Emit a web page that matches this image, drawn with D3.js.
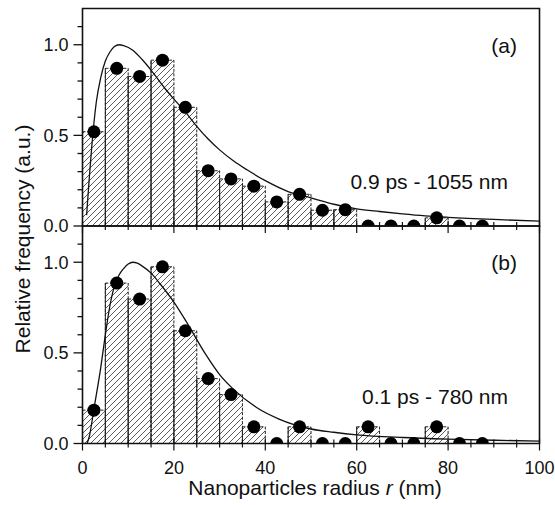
<!DOCTYPE html>
<html>
<head>
<meta charset="utf-8">
<script src="https://cdn.jsdelivr.net/npm/d3@7"></script>
<style>
    body { margin: 0; background: #fff; }
    text { font-family: "Liberation Sans", Arial, Helvetica, sans-serif; fill: #111; }
</style>
</head>
<body>
<div id="chart"></div>
<script>
// histogram bins (5 nm wide), centres in nm
const binCenters = [2.5, 7.5, 12.5, 17.5, 22.5, 27.5, 32.5, 37.5, 42.5, 47.5, 52.5, 57.5, 62.5, 67.5, 72.5, 77.5, 82.5, 87.5];

// relative frequency, panel (a) and (b)
const freqA = [0.52, 0.87, 0.825, 0.915, 0.655, 0.305, 0.26, 0.22, 0.133, 0.175, 0.087, 0.09, 0, 0, 0, 0.045, 0, 0];
const freqB = [0.184, 0.885, 0.797, 0.975, 0.622, 0.358, 0.27, 0.092, 0, 0.092, 0, 0, 0.092, 0, 0, 0.092, 0, 0];

// fitted curves
const fitRadiusA = [0.9, 1.5, 2, 3, 4, 5, 6, 7, 8, 9, 11, 13, 15, 18, 20, 22.5, 25, 27.5, 30, 33, 36, 40, 45, 50, 55, 60, 65, 70, 75, 80, 90, 100];
const fitA = [0.06, 0.27, 0.43, 0.68, 0.82, 0.91, 0.96, 0.99, 1.0, 0.995, 0.97, 0.92, 0.86, 0.76, 0.70, 0.63, 0.55, 0.48, 0.42, 0.36, 0.31, 0.25, 0.19, 0.155, 0.12, 0.095, 0.08, 0.067, 0.056, 0.048, 0.036, 0.027];
const fitRadiusB = [1, 1.5, 2.5, 4, 5, 6, 7, 8, 9, 10, 11, 12, 13, 15, 17, 20, 23, 27, 30, 33, 38, 43, 50, 55, 60, 70, 80, 90, 100];
const fitB = [0.0, 0.04, 0.19, 0.42, 0.6, 0.76, 0.87, 0.93, 0.965, 0.99, 1.0, 0.995, 0.98, 0.94, 0.88, 0.78, 0.66, 0.49, 0.38, 0.3, 0.2, 0.135, 0.08, 0.062, 0.048, 0.033, 0.024, 0.018, 0.013];

const xTicks = [0, 20, 40, 60, 80, 100];
const yTicks = [0.0, 0.5, 1.0];
const panelLabels = ['(a)', '(b)'];
const pulseLabels = ['0.9 ps - 1055 nm', '0.1 ps - 780 nm'];

const config = {
    width: 555,
    height: 505,
    left: 82.5,
    right: 539.5,
    top: 8.5,
    panelHeight: 217.5,
    binWidth: 5,
    dotRadius: 6.5
};

const svg = d3.select('#chart')
    .append('svg')
    .attr('width', config.width)
    .attr('height', config.height)
    ;

// diagonal hatch for the bars
svg.append('defs')
    .append('pattern')
    .attr('id', 'hatch')
    .attr('patternUnits', 'userSpaceOnUse')
    .attr('width', 6)
    .attr('height', 6)
    .append('path')
    .attr('d', 'M -1 7 L 7 -1 M -1 1 L 1 -1 M 5 7 L 7 5')
    .attr('stroke', '#333')
    .attr('stroke-width', 0.8)
    ;

const x = d3.scaleLinear()
    .domain([0, 100])
    .range([config.left, config.right]);

const panels = [
    { freq: freqA, fitR: fitRadiusA, fit: fitA },
    { freq: freqB, fitR: fitRadiusB, fit: fitB }
];

panels.forEach((panel, i) => {
    const y0 = config.top + i * config.panelHeight;
    const y1 = y0 + config.panelHeight;
    const y = d3.scaleLinear()
        .domain([0, 1.2])
        .range([y1, y0]);

    const g = svg.append('g');

    svg.select('defs')
        .append('clipPath')
        .attr('id', `clip${i}`)
        .append('rect')
        .attr('x', config.left)
        .attr('y', y0)
        .attr('width', config.right - config.left)
        .attr('height', config.panelHeight)
        ;

    const plot = g.append('g').attr('clip-path', `url(#clip${i})`);

    const bins = binCenters
        .map((c, j) => ({ c: c, v: panel.freq[j] }))
        .filter(d => d.v > 0);

    // hatched bars with dashed outline
    plot.selectAll('.bar')
        .data(bins)
        .enter()
        .append('rect')
        .attr('class', 'bar')
        .attr('x', d => x(d.c - config.binWidth / 2))
        .attr('y', d => y(d.v))
        .attr('width', d => x(config.binWidth) - x(0))
        .attr('height', d => y(0) - y(d.v))
        .attr('fill', 'url(#hatch)')
        .attr('stroke', '#222')
        .attr('stroke-width', 1)
        .attr('stroke-dasharray', '3,1.5')
        ;

    // solid left edges
    plot.selectAll('.edge')
        .data(bins)
        .enter()
        .append('line')
        .attr('class', 'edge')
        .attr('x1', d => x(d.c - config.binWidth / 2))
        .attr('x2', d => x(d.c - config.binWidth / 2))
        .attr('y1', y(0))
        .attr('y2', d => y(d.v))
        .attr('stroke', '#222')
        .attr('stroke-width', 1)
        ;

    // fit curve
    const line = d3.line()
        .x(d => x(d[0]))
        .y(d => y(d[1]))
        .curve(d3.curveMonotoneX);

    plot.append('path')
        .datum(panel.fitR.map((r, j) => [r, panel.fit[j]]))
        .attr('d', line)
        .attr('fill', 'none')
        .attr('stroke', '#111')
        .attr('stroke-width', 1.3)
        ;

    // data points
    plot.selectAll('.dot')
        .data(binCenters.map((c, j) => ({ c: c, v: panel.freq[j] })))
        .enter()
        .append('circle')
        .attr('class', 'dot')
        .attr('cx', d => x(d.c))
        .attr('cy', d => y(d.v))
        .attr('r', config.dotRadius)
        .attr('fill', '#000')
        ;

    // y ticks every 0.1, labels at 0, 0.5, 1.0
    const yMinor = d3.range(0, 12).map(k => k / 10);
    g.selectAll('.ytick')
        .data(yMinor)
        .enter()
        .append('line')
        .attr('x1', d => (Math.round(d * 10) % 5 === 0) ? config.left - 9 : config.left - 5)
        .attr('x2', config.left)
        .attr('y1', d => y(d))
        .attr('y2', d => y(d))
        .attr('stroke', '#111')
        .attr('stroke-width', 1.3)
        ;

    g.selectAll('.ylabel')
        .data(yTicks)
        .enter()
        .append('text')
        .attr('x', config.left - 14)
        .attr('y', d => y(d))
        .attr('dy', '0.36em')
        .attr('text-anchor', 'end')
        .style('font-size', '18px')
        .text(d => d3.format('.1f')(d))
        ;

    // x ticks every 5 nm
    const xMinor = d3.range(0, 101, 5);
    g.selectAll('.xtick')
        .data(xMinor)
        .enter()
        .append('line')
        .attr('x1', d => x(d))
        .attr('x2', d => x(d))
        .attr('y1', d => d % 20 === 0 ? y1 - 5 : y1 - 4)
        .attr('y2', d => d % 20 === 0 ? y1 + 7 : y1 + 4)
        .attr('stroke', '#111')
        .attr('stroke-width', 1.2)
        ;

    // frame
    g.append('path')
        .attr('d', `M ${config.left} ${y0} H ${config.right} V ${y1} H ${config.left} Z`)
        .attr('fill', 'none')
        .attr('stroke', '#111')
        .attr('stroke-width', 1.6)
        ;

    g.append('text')
        .attr('x', 517)
        .attr('y', y0 + 44)
        .attr('text-anchor', 'end')
        .style('font-size', '21px')
        .text(panelLabels[i])
        ;

    g.append('text')
        .attr('x', 508)
        .attr('y', i === 0 ? 189 : 404)
        .attr('text-anchor', 'end')
        .style('font-size', '21px')
        .text(pulseLabels[i])
        ;

    if (i === 1) {
        g.selectAll('.xlabel')
            .data(xTicks)
            .enter()
            .append('text')
            .attr('x', d => x(d))
            .attr('y', y1 + 30)
            .attr('text-anchor', 'middle')
            .style('font-size', '18px')
            .text(d => d)
            ;
    }
});

// axis titles
const xTitle = svg.append('text')
    .attr('x', (config.left + config.right) / 2 + 4)
    .attr('y', 495)
    .attr('text-anchor', 'middle')
    .style('font-size', '21px')
    ;
xTitle.append('tspan').text('Nanoparticles radius ');
xTitle.append('tspan').style('font-style', 'italic').text('r');
xTitle.append('tspan').text(' (nm)');

svg.append('text')
    .attr('transform', `translate(30, ${config.top + config.panelHeight + 13}) rotate(-90)`)
    .attr('text-anchor', 'middle')
    .style('font-size', '21px')
    .text('Relative frequency (a.u.)')
    ;
</script>
</body>
</html>
